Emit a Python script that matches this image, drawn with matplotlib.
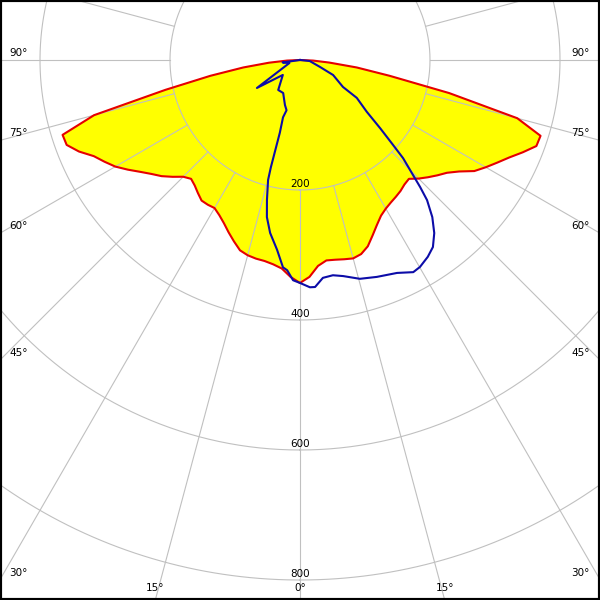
import numpy as np
import matplotlib
matplotlib.use("Agg")
import matplotlib.pyplot as plt

# ====== データ (角度: 真下=0°, 右が正 / 光度 cd) ======
red_angles = [-90, -87.5, -85, -82.5, -80, -77.5, -75, -72.5, -70, -67.5, -65, -62.5,
              -60, -57.5, -55, -52.5, -50, -47.5, -45, -42.5, -40, -37.5, -35, -32.5,
              -30, -27.5, -25, -22.5, -20, -17.5, -15, -12.5, -10, -7.5, -5, -2.5,
              0, 2.5, 5, 7.5, 10, 12.5, 15, 17.5, 20, 22.5, 25, 27.5, 30, 32.5, 35,
              37.5, 40, 42.5, 45, 47.5, 50, 52.5, 55, 57.5, 60, 62.5, 65, 67.5, 70,
              72.5, 75, 77.5, 80, 82.5, 85, 87.5, 90]
red_values = [0, 20, 48, 88, 140, 212, 328, 383, 382, 368, 350, 339,
              328, 314, 300, 288, 278, 266, 254, 248, 252, 258, 264, 264,
              263, 269, 277, 287, 297, 307, 311, 313, 314, 317, 322, 334,
              343, 334, 318, 311, 312, 314, 316, 313, 305, 292, 280, 270, 264, 260, 257,
              254, 250, 248, 258, 267, 276, 285, 299, 318, 330, 342, 355, 371, 387,
              388, 346, 235, 140, 88, 45, 20, 0]

blue_angles = [-90, -82, -74, -57, -49, -36, -27, -18.5, -15, -16.5, -15.5, -15.2,
               -14.9, -13.3, -11.9, -9.8, -6.9, -4.7, -3.5, -1.8, 0, 2.5, 3.8, 6,
               8.7, 11.3, 15.3, 19.5, 24.5, 28.1, 30.1, 33, 35.4, 37.8, 40.1, 42.2,
               43.4, 44.5, 46.4, 47.6, 49.6, 52.2, 56.3, 57.9, 65.6, 70.7, 84, 90]
blue_values = [0, 27, 17, 79, 35, 57, 57, 73, 80, 92, 116, 171,
               191, 221, 247, 270, 294, 320, 324, 339, 343, 350, 350, 337,
               335, 339, 349, 354, 360, 370, 368, 361, 353, 337, 316, 291,
               269, 248, 219, 194, 162, 130, 105, 78, 56, 33, 15, 0]

ring_values = [200, 400, 600, 800]
angle_ticks = [90, 75, 60, 45, 30]
bottom_ticks = [15, 0]

# ====== 図 ======
W, H = 600, 600
cx, cy = 300, 60          # 極の中心 (px, 上から)
rmax = 1000
px_per_cd = 0.65

fig = plt.figure(figsize=(6, 6), dpi=100)
R = rmax * px_per_cd
ax = fig.add_axes([(cx - R) / W, (H - cy - R) / H, 2 * R / W, 2 * R / H],
                  projection="polar")
ax.set_theta_zero_location("S")
ax.set_rlim(0, rmax)
ax.axis("off")

th_red = np.deg2rad(red_angles)
ax.fill(th_red, red_values, color="#ffff00", zorder=1, lw=0)

# グリッド
grid_c = "#c0c0c0"
circ = np.linspace(0, 2 * np.pi, 721)
for rv in ring_values:
    ax.plot(circ, np.full_like(circ, rv), color=grid_c, lw=0.8, zorder=2)
for a in range(0, 360, 15):
    t = np.deg2rad(a)
    ax.plot([t, t], [200, rmax], color=grid_c, lw=0.8, zorder=2)

ax.plot(th_red, red_values, color="#e60000", lw=1.5, zorder=3)
ax.plot(np.deg2rad(blue_angles), blue_values, color="#0c0ca8", lw=1.5, zorder=4)

# ラベル
fs = 7.5
for rv in ring_values:
    ax.text(0, rv - 9, str(rv), ha="center", va="center", fontsize=fs, zorder=5)

for a in angle_ticks:
    y_edge = cy + cx / np.tan(np.deg2rad(a))
    fig.text(9 / W, 1 - (y_edge - 7) / H, f"{a}°", ha="left", va="center", fontsize=fs)
    fig.text(590 / W, 1 - (y_edge - 7) / H, f"{a}°", ha="right", va="center", fontsize=fs)

for a in bottom_ticks:
    dx = (H - cy) * np.tan(np.deg2rad(a))
    for s in ([-1, 1] if a else [1]):
        fig.text((cx + s * dx) / W, 1 - 588 / H, f"{a}°", ha="center", va="center", fontsize=fs)

fig.add_artist(plt.Rectangle((0, 0), 1, 1, transform=fig.transFigure,
                             fill=False, ec="black", lw=3))

fig.savefig("out.png", dpi=100, facecolor="white")
